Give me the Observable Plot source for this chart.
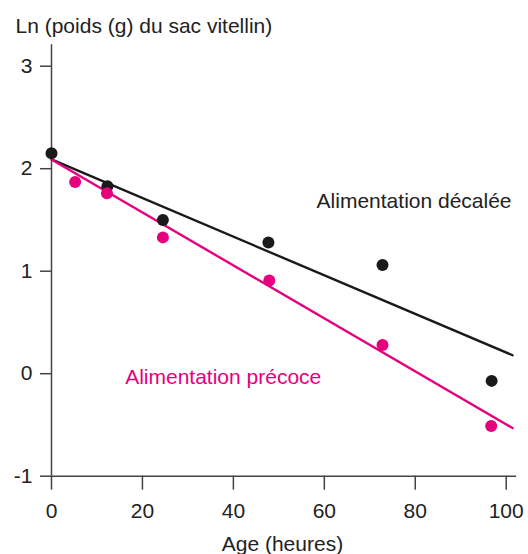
<!DOCTYPE html>
<html>
<head>
<meta charset="utf-8">
<script src="https://cdn.jsdelivr.net/npm/d3@7"></script>
<script src="https://cdn.jsdelivr.net/npm/@observablehq/plot@0.6"></script>
<style>
  html, body { margin: 0; padding: 0; background: #fff; }
</style>
</head>
<body>
<div id="chart"></div>
<script>
// Data
const agesDecalee = [0, 12.3, 24.5, 47.7, 72.8, 96.8];
const lnDecalee   = [2.15, 1.83, 1.50, 1.28, 1.06, -0.07];
const agesPrecoce = [5.2, 12.2, 24.5, 47.9, 72.8, 96.7];
const lnPrecoce   = [1.87, 1.76, 1.33, 0.91, 0.28, -0.51];
const fitAges     = [0, 101.4];
const fitDecalee  = [2.09, 0.18];
const fitPrecoce  = [2.09, -0.53];
const xTicks = [0, 20, 40, 60, 80, 100];
const yTicks = [-1, 0, 1, 2, 3];
const labelDecalee = "Alimentation décalée";
const labelPrecoce = "Alimentation précoce";
const yTitle = "Ln (poids (g) du sac vitellin)";
const xTitle = "Age (heures)";

const BLACK = "#1a1a1a";
const PINK = "#e5007e";
const AXIS = "#444";
const FONT = "'Liberation Sans', Arial, Helvetica, sans-serif";
const FS = 21;

const ptsDec = agesDecalee.map((a, i) => ({age: a, ln: lnDecalee[i]}));
const ptsPre = agesPrecoce.map((a, i) => ({age: a, ln: lnPrecoce[i]}));
const lineDec = fitAges.map((a, i) => ({age: a, ln: fitDecalee[i]}));
const linePre = fitAges.map((a, i) => ({age: a, ln: fitPrecoce[i]}));

const chart = Plot.plot({
  width: 528,
  height: 554,
  marginLeft: 51,
  marginRight: 22.3,
  marginTop: 65.7,
  marginBottom: 78.3,
  x: {domain: [0, 100]},
  y: {domain: [-1, 3]},
  style: {fontFamily: FONT, fontSize: FS + "px", color: "#222", background: "#fff"},
  marks: [
    Plot.axisX({ticks: xTicks, tickSize: 14, tickPadding: 13, label: null, fontSize: FS, stroke: AXIS, strokeWidth: 1.5, fill: "#222"}),
    Plot.axisY({ticks: yTicks, tickSize: 11, tickPadding: 8, label: null, fontSize: FS, stroke: AXIS, strokeWidth: 1.5, fill: "#222", tickFormat: d => d < 0 ? "-" + Math.abs(d) : String(d)}),
    Plot.ruleY([-1], {x1: 0, x2: 102.3, stroke: AXIS, strokeWidth: 1.5}),
    Plot.ruleX([0], {y1: -1, y2: 3.21, stroke: AXIS, strokeWidth: 1.5}),
    Plot.line(lineDec, {x: "age", y: "ln", stroke: BLACK, strokeWidth: 2.4}),
    Plot.line(linePre, {x: "age", y: "ln", stroke: PINK, strokeWidth: 2.4}),
    Plot.dot(ptsDec, {x: "age", y: "ln", r: 6, fill: BLACK, stroke: "none"}),
    Plot.dot(ptsPre, {x: "age", y: "ln", r: 6, fill: PINK, stroke: "none"}),
    Plot.text([labelDecalee], {x: 58.3, y: 1.68, text: d => d, textAnchor: "start", fill: "#222", fontSize: FS}),
    Plot.text([labelPrecoce], {x: 16.2, y: -0.035, text: d => d, textAnchor: "start", fill: PINK, fontSize: FS}),
    Plot.text([yTitle], {frameAnchor: "top-left", text: d => d, textAnchor: "start", lineAnchor: "middle", dx: -36, dy: -40, fill: "#222", fontSize: FS}),
    Plot.text([xTitle], {frameAnchor: "bottom", text: d => d, lineAnchor: "middle", dx: 3.6, dy: 68, fill: "#222", fontSize: FS})
  ]
});
document.getElementById("chart").appendChild(chart);
</script>
</body>
</html>
